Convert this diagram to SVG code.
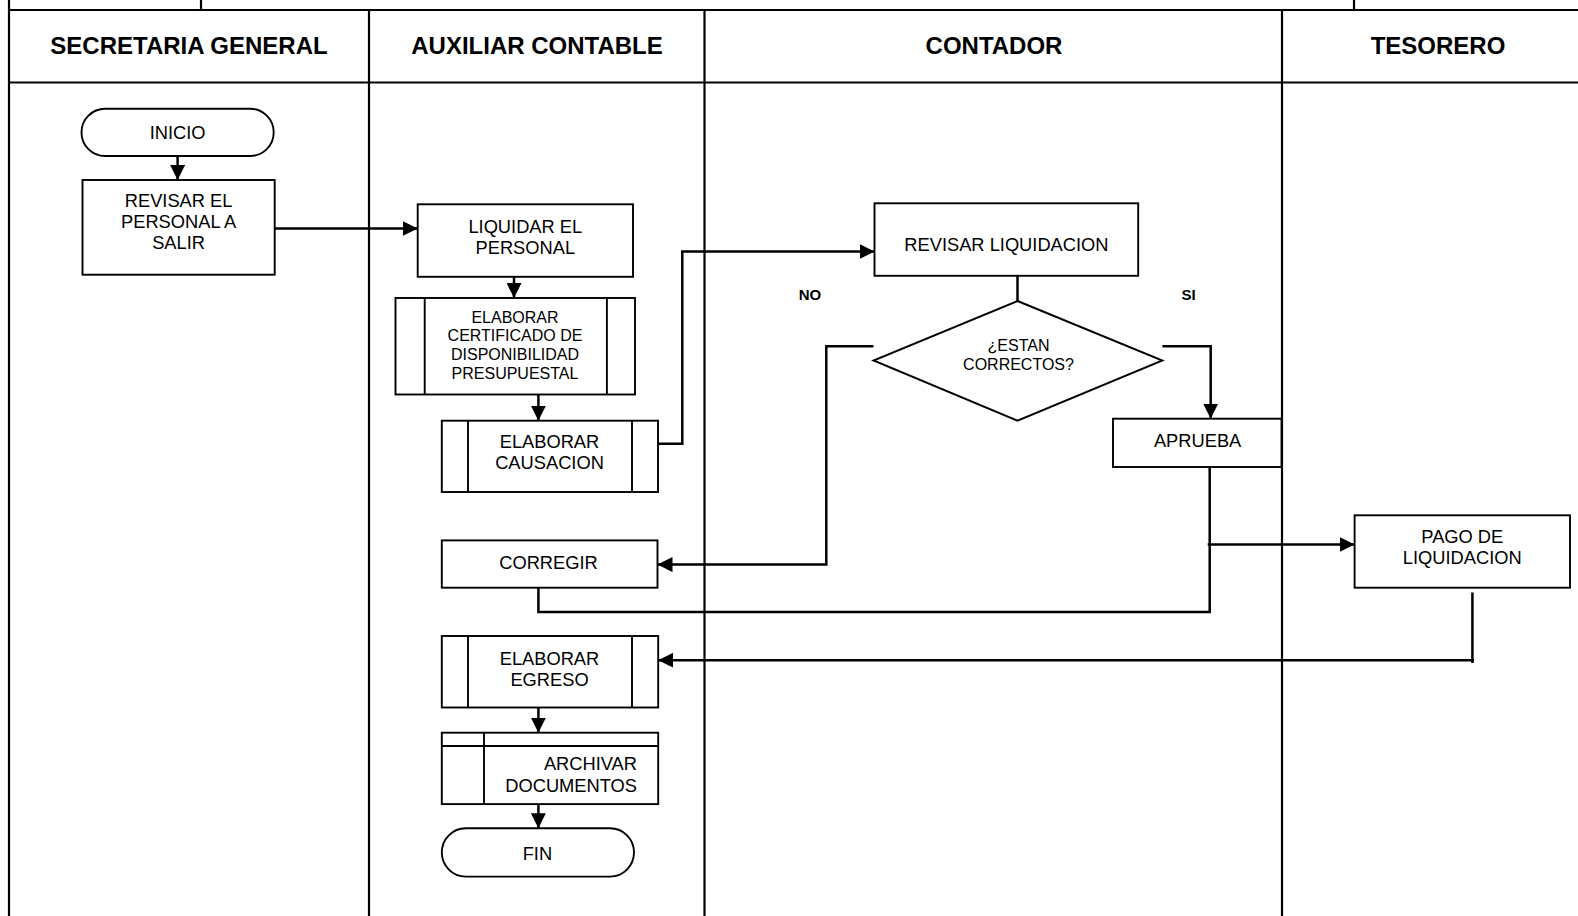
<svg xmlns="http://www.w3.org/2000/svg" width="1578" height="916" viewBox="0 0 1578 916">
<style>
.lane{stroke:#000;stroke-width:2.2;fill:none}
.box{fill:#fff;stroke:#000;stroke-width:1.9}
.ln{stroke:#000;stroke-width:2.5;fill:none}
.in{stroke:#000;stroke-width:1.9;fill:none}
.t{font-family:"Liberation Sans",Arial,sans-serif;font-size:18.3px;fill:#000;text-anchor:middle}
.s{font-family:"Liberation Sans",Arial,sans-serif;font-size:16px;fill:#000;text-anchor:middle}
.h{font-family:"Liberation Sans",Arial,sans-serif;font-size:24px;font-weight:bold;fill:#000;text-anchor:middle}
.b{font-family:"Liberation Sans",Arial,sans-serif;font-size:15px;font-weight:bold;fill:#000;text-anchor:middle}
</style>
<defs>
<marker id="arr" markerUnits="userSpaceOnUse" markerWidth="15" markerHeight="15" refX="15" refY="7.5" orient="auto">
<path d="M0,0 L15,7.5 L0,15 z" fill="#000"/>
</marker>
</defs>
<rect x="0" y="0" width="1578" height="916" fill="#fff"/>
<g id="lanes">
<line class="lane" x1="9" y1="0" x2="9" y2="916"/>
<line class="lane" x1="201" y1="0" x2="201" y2="10"/>
<line class="lane" x1="1354" y1="0" x2="1354" y2="10"/>
<line class="lane" x1="9" y1="10" x2="1578" y2="10"/>
<line class="lane" x1="9" y1="82.5" x2="1578" y2="82.5"/>
<line class="lane" x1="369" y1="10" x2="369" y2="916"/>
<line class="lane" x1="704.5" y1="10" x2="704.5" y2="916"/>
<line class="lane" x1="1282" y1="10" x2="1282" y2="916"/>
<text class="h" x="189" y="53.9">SECRETARIA GENERAL</text>
<text class="h" x="537" y="53.9">AUXILIAR CONTABLE</text>
<text class="h" x="994" y="53.9">CONTADOR</text>
<text class="h" x="1438" y="53.9">TESORERO</text>
</g>
<g id="connectors">
<line class="ln" x1="177.6" y1="156" x2="177.6" y2="180" marker-end="url(#arr)"/>
<line class="ln" x1="274.7" y1="228.5" x2="417.7" y2="228.5" marker-end="url(#arr)"/>
<line class="ln" x1="514" y1="276.8" x2="514" y2="298" marker-end="url(#arr)"/>
<line class="ln" x1="538.4" y1="394.5" x2="538.4" y2="420.7" marker-end="url(#arr)"/>
<polyline class="ln" points="658,443.8 682.3,443.8 682.3,251.6 874.5,251.6" marker-end="url(#arr)"/>
<line class="ln" x1="1017.5" y1="275.8" x2="1017.5" y2="301"/>
<polyline class="ln" points="873.5,346.2 826.3,346.2 826.3,564.6 657.5,564.6" marker-end="url(#arr)"/>
<polyline class="ln" points="1162.4,346.2 1210.7,346.2 1210.7,418.7" marker-end="url(#arr)"/>
<polyline class="ln" points="1209.7,467 1209.7,611.9 538.4,611.9 538.4,587.7"/>
<line class="ln" x1="1207.7" y1="544.5" x2="1354.6" y2="544.5" marker-end="url(#arr)"/>
<line class="ln" x1="1472.4" y1="592.5" x2="1472.4" y2="663"/>
<line class="ln" x1="1474" y1="660.2" x2="658.2" y2="660.2" marker-end="url(#arr)"/>
<line class="ln" x1="538.4" y1="707.5" x2="538.4" y2="732.7" marker-end="url(#arr)"/>
<line class="ln" x1="538.4" y1="804.1" x2="538.4" y2="828.3" marker-end="url(#arr)"/>
<text class="b" x="810" y="300.4">NO</text>
<text class="b" x="1188.5" y="300.4">SI</text>
</g>
<g id="inicio">
<rect class="box" x="81.5" y="108.7" width="192.2" height="47.3" rx="23.6" ry="23.6"/>
<text class="t" x="177.6" y="138.8">INICIO</text>
</g>
<g id="revisar-personal">
<rect class="box" x="82.5" y="180" width="192.2" height="94.7"/>
<text class="t" x="178.6" y="206.5">REVISAR EL</text>
<text class="t" x="178.6" y="227.6">PERSONAL A</text>
<text class="t" x="178.6" y="248.7">SALIR</text>
</g>
<g id="liquidar">
<rect class="box" x="417.7" y="204.3" width="215.3" height="72.5"/>
<text class="t" x="525.3" y="233">LIQUIDAR EL</text>
<text class="t" x="525.3" y="254.1">PERSONAL</text>
</g>
<g id="certificado">
<rect class="box" x="395.5" y="298" width="239.5" height="96.5"/>
<line class="in" x1="424.7" y1="298" x2="424.7" y2="394.5"/>
<line class="in" x1="606.9" y1="298" x2="606.9" y2="394.5"/>
<text class="s" x="515" y="322.5">ELABORAR</text>
<text class="s" x="515" y="341.2">CERTIFICADO DE</text>
<text class="s" x="515" y="359.9">DISPONIBILIDAD</text>
<text class="s" x="515" y="378.6">PRESUPUESTAL</text>
</g>
<g id="causacion">
<rect class="box" x="441.8" y="420.7" width="216.2" height="71.3"/>
<line class="in" x1="468" y1="420.7" x2="468" y2="492"/>
<line class="in" x1="632" y1="420.7" x2="632" y2="492"/>
<text class="t" x="549.5" y="448.3">ELABORAR</text>
<text class="t" x="549.5" y="469.4">CAUSACION</text>
</g>
<g id="revisar-liquidacion">
<rect class="box" x="874.5" y="203.3" width="263.7" height="72.5"/>
<text class="t" x="1006.4" y="251">REVISAR LIQUIDACION</text>
</g>
<g id="decision">
<polygon class="box" points="1017.5,301 1162.4,360.5 1017.5,420.7 873.5,360.5"/>
<text class="s" x="1018.5" y="350.7">¿ESTAN</text>
<text class="s" x="1018.5" y="369.7">CORRECTOS?</text>
</g>
<g id="aprueba">
<rect class="box" x="1113" y="418.7" width="168.5" height="48.3"/>
<text class="t" x="1197.6" y="447.3">APRUEBA</text>
</g>
<g id="corregir">
<rect class="box" x="441.8" y="540.4" width="215.7" height="47.3"/>
<text class="t" x="548.5" y="569">CORREGIR</text>
</g>
<g id="pago">
<rect class="box" x="1354.6" y="515.3" width="215.4" height="72.4"/>
<text class="t" x="1462.3" y="542.9">PAGO DE</text>
<text class="t" x="1462.3" y="564">LIQUIDACION</text>
</g>
<g id="egreso">
<rect class="box" x="441.8" y="636" width="216.4" height="71.5"/>
<line class="in" x1="468" y1="636" x2="468" y2="707.5"/>
<line class="in" x1="632" y1="636" x2="632" y2="707.5"/>
<text class="t" x="549.5" y="664.7">ELABORAR</text>
<text class="t" x="549.5" y="685.8">EGRESO</text>
</g>
<g id="archivar">
<rect class="box" x="441.8" y="732.7" width="216.4" height="71.4"/>
<line class="in" x1="441.8" y1="746" x2="658.2" y2="746"/>
<line class="in" x1="484" y1="732.7" x2="484" y2="804.1"/>
<text class="t" x="637" y="770.4" style="text-anchor:end">ARCHIVAR</text>
<text class="t" x="637" y="791.5" style="text-anchor:end">DOCUMENTOS</text>
</g>
<g id="fin">
<rect class="box" x="441.8" y="828.3" width="192.2" height="48.3" rx="24" ry="24"/>
<text class="t" x="537.4" y="859.9">FIN</text>
</g>
</svg>
